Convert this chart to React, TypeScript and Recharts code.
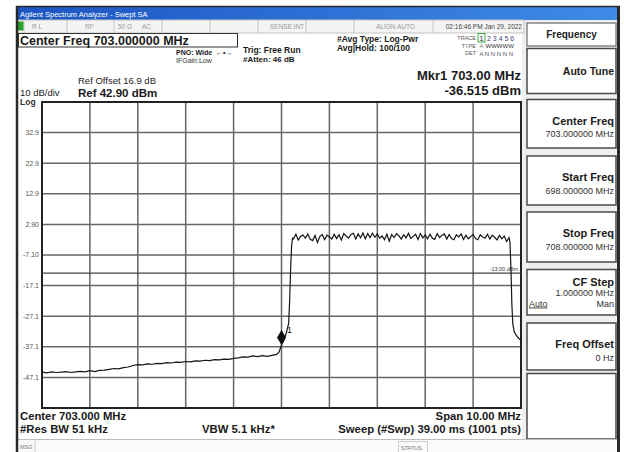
import React from 'react';
import {
  LineChart,
  Line,
  XAxis,
  YAxis,
  CartesianGrid,
  ReferenceArea,
  ReferenceLine,
  ReferenceDot,
} from 'recharts';

// Noise floor below the channel, 698 - 703 MHz
const floorFreq = [
  698.0, 698.1, 698.2, 698.3, 698.4, 698.5, 698.6, 698.7, 698.8, 698.9,
  699.0, 699.1, 699.2, 699.3, 699.4, 699.5, 699.6, 699.7, 699.8, 699.9,
  700.0, 700.1, 700.2, 700.3, 700.4, 700.5, 700.6, 700.7, 700.8, 700.9,
  701.0, 701.1, 701.2, 701.3, 701.4, 701.5, 701.6, 701.7, 701.8, 701.9,
  702.0, 702.1, 702.2, 702.3, 702.4, 702.5, 702.6, 702.7, 702.8, 702.9, 702.95,
];
const floorLevel = [
  -45.4, -45.6, -45.3, -45.5, -45.4, -45.2, -45.5, -45.3, -45.1, -45.3,
  -44.9, -45.2, -44.8, -44.7, -44.5, -44.2, -44.3, -43.9, -43.7, -43.2,
  -42.9, -43.0, -42.7, -42.8, -42.5, -42.6, -42.3, -42.4, -42.1, -42.2,
  -41.9, -42.0, -41.7, -41.8, -41.5, -41.6, -41.3, -41.4, -41.1, -41.2,
  -40.9, -40.7, -40.4, -40.5, -40.1, -40.3, -40.0, -40.2, -39.9, -39.6, -38.8,
];

// Rising edge (marker sits on the first point)
const riseFreq = [703.0, 703.05, 703.1, 703.15, 703.17, 703.19, 703.21, 703.23];
const riseLevel = [-36.5, -35.0, -32.6, -29.4, -22.0, -12.0, -4.2, -1.6];

// Channel plateau
const bandFreq = [
  703.25, 703.3, 703.35, 703.4, 703.45, 703.5, 703.55, 703.6, 703.65, 703.7, 703.75, 703.8, 703.85, 703.9, 703.95,
  704.0, 704.05, 704.1, 704.15, 704.2, 704.25, 704.3, 704.35, 704.4, 704.45, 704.5, 704.55, 704.6, 704.65, 704.7, 704.75, 704.8, 704.85, 704.9, 704.95,
  705.0, 705.05, 705.1, 705.15, 705.2, 705.25, 705.3, 705.35, 705.4, 705.45, 705.5, 705.55, 705.6, 705.65, 705.7, 705.75, 705.8, 705.85, 705.9, 705.95,
  706.0, 706.05, 706.1, 706.15, 706.2, 706.25, 706.3, 706.35, 706.4, 706.45, 706.5, 706.55, 706.6, 706.65, 706.7, 706.75, 706.8, 706.85, 706.9, 706.95,
  707.0, 707.05, 707.1, 707.15, 707.2, 707.25, 707.3, 707.35, 707.4, 707.45, 707.5, 707.55, 707.6, 707.65, 707.7, 707.75,
];
const bandLevel = [
  -1.8, -0.3, -2.2, -1.0, -0.6, -1.6, -0.2, -2.0, -2.4, -0.7, -3.0, -1.1, -0.4, -2.1, -0.6,
  -1.2, -1.9, -0.3, -1.7, -0.5, -2.2, -0.1, -0.9, -1.6, -0.4, 0.0, -1.9, -0.2, -1.5, 0.1, -1.8, -0.1, -1.4, 0.0, -1.3,
  -0.2, -1.6, -0.9, -2.1, -0.3, -2.6, -0.4, -1.4, -0.1, -0.8, -1.9, -0.5, -1.5, 0.0, -1.7, -1.0, -0.3, -2.0, -0.1, -1.5,
  -0.6, -1.8, -0.3, -1.6, -2.0, -0.1, -1.4, -0.7, -0.2, -1.9, -0.4, -1.7, -2.1, -0.5, -1.2, -0.2, -2.0, -0.6, -1.8, -1.1,
  -0.4, -1.7, -2.1, -0.5, -1.2, -1.6, -0.3, -1.9, -0.6, -1.3, -2.2, -0.7, -1.8, -0.9, -2.7, -1.4,
];

// Falling edge
const fallFreq = [707.77, 707.79, 707.81, 707.83, 707.86, 707.9, 707.95, 708.0];
const fallLevel = [-3.0, -11.5, -23.5, -29.8, -32.3, -33.3, -34.3, -35.0];

const markerFreq = 703.0;
const markerLevel = -36.515;
const displayLine = -13;

const xTicks = [698, 699, 700, 701, 702, 703, 704, 705, 706, 707, 708];
const yTicks = [32.9, 22.9, 12.9, 2.9, -7.1, -17.1, -27.1, -37.1, -47.1];
const yTickLabels = ['32.9', '22.9', '12.9', '2.90', '-7.10', '-17.1', '-27.1', '-37.1', '-47.1'];

const traceData = [
  ...floorFreq.map((f, i) => ({ f, level: floorLevel[i] })),
  ...riseFreq.map((f, i) => ({ f, level: riseLevel[i] })),
  ...bandFreq.map((f, i) => ({ f, level: bandLevel[i] })),
  ...fallFreq.map((f, i) => ({ f, level: fallLevel[i] })),
];

const FONT = '"Liberation Sans", Arial, sans-serif';

function T({ x, y, size, bold, anchor, fill, children, underline }: any) {
  return (
    <text
      x={x}
      y={y}
      fontSize={size}
      fontWeight={bold ? 'bold' : 'normal'}
      textAnchor={anchor || 'start'}
      fill={fill || '#1a1a1a'}
      fontFamily={FONT}
      textDecoration={underline ? 'underline' : undefined}
    >
      {children}
    </text>
  );
}

function MarkerDiamond(props: any) {
  const { cx, cy } = props;
  return (
    <g>
      <path
        d={`M${cx},${cy - 15} L${cx + 4.5},${cy - 7.5} L${cx},${cy} L${cx - 4.5},${cy - 7.5} Z`}
        fill="#111"
      />
      <text x={cx + 5.5} y={cy - 12} fontSize={9} fontFamily={FONT} fill="#111">1</text>
    </g>
  );
}

function DisplayLineLabel(props: any) {
  const vb = props.viewBox || {};
  return (
    <text
      x={vb.x + vb.width - 3}
      y={vb.y - 2}
      fontSize={5.5}
      textAnchor="end"
      fontFamily={FONT}
      fill="#333"
    >
      -13.00 dBm
    </text>
  );
}

function SoftKey({ top, bottom, label, value }: any) {
  return (
    <g>
      <rect x={527} y={top} width={89} height={bottom - top} fill="#fff" stroke="#4a4a4a" strokeWidth={1.5} />
      <T x={614} y={top + 25} size={11} bold anchor="end">{label}</T>
      {value && <T x={614} y={top + 37.5} size={9} anchor="end" fill="#333">{value}</T>}
    </g>
  );
}

function Chrome() {
  const dividers = [24, 67, 114, 162, 210, 258, 306, 354, 433];
  return (
    <svg width={624} height={452} style={{ position: 'absolute', left: 0, top: 0 }}>
      <defs>
        <linearGradient id="titleBar" x1="0" x2="1" y1="0" y2="0">
          <stop offset="0" stopColor="#1c55c2" />
          <stop offset="1" stopColor="#3f8be9" />
        </linearGradient>
      </defs>
      <rect x={0} y={0} width={624} height={452} fill="#fff" />
      <rect x={522} y={20} width={96} height={420} fill="#efefef" />

      {/* title bar */}
      <rect x={17} y={7} width={602} height={13} fill="url(#titleBar)" />
      <T x={20} y={16.5} size={7.5} fill="#fff">Agilent Spectrum Analyzer - Swept SA</T>

      {/* status row */}
      <rect x={17} y={20} width={507} height={13} fill="#f4f4f4" stroke="#c4c4c4" strokeWidth={1} />
      {dividers.map((d) => (
        <line key={d} x1={d} x2={d} y1={20} y2={33} stroke="#c4c4c4" />
      ))}
      <rect x={18} y={21.5} width={5.5} height={9} fill="#2aa02a" />
      <T x={32} y={29} size={6.5} fill="#999">R L</T>
      <T x={85} y={29} size={6.5} fill="#999">RF</T>
      <T x={118} y={29} size={6.5} fill="#999">50 Ω</T>
      <T x={142} y={29} size={6.5} fill="#999">AC</T>
      <T x={270} y={29} size={6.5} fill="#999">SENSE:INT</T>
      <T x={376} y={29} size={6.5} fill="#999">ALIGN AUTO</T>
      <T x={522} y={29} size={6.5} anchor="end" fill="#444">02:16:46 PM Jan 29, 2022</T>

      {/* header */}
      <rect x={18.5} y={33.5} width={219} height={13.5} fill="#fff" stroke="#333" strokeWidth={1} />
      <T x={20} y={45} size={12.5} bold>Center Freq 703.000000 MHz</T>
      <T x={176} y={54.5} size={7} bold>PNO: Wide</T>
      <T x={216} y={54.5} size={7} bold>←•→</T>
      <T x={176} y={63} size={7} fill="#333">IFGain:Low</T>
      <T x={243} y={52.5} size={8.5} bold>Trig: Free Run</T>
      <T x={243} y={61.5} size={8} bold>#Atten: 46 dB</T>
      <T x={337} y={41.5} size={8.5} bold>#Avg Type: Log-Pwr</T>
      <T x={337} y={50.5} size={8.5} bold>Avg|Hold: 100/100</T>

      <T x={476} y={40} size={5.5} anchor="end" fill="#555">TRACE</T>
      <T x={476} y={47.5} size={5.5} anchor="end" fill="#555">TYPE</T>
      <T x={476} y={55} size={5.5} anchor="end" fill="#555">DET</T>
      <rect x={478} y={33.5} width={7} height={8.5} fill="none" stroke="#3cb043" strokeWidth={1} />
      <T x={479.5} y={40.5} size={7}>1</T>
      <T x={487} y={40.5} size={7} fill="#3a4a7a">2 3 4 5 6</T>
      <T x={479.5} y={48} size={6} fill="#777">A</T>
      <T x={485.5} y={48} size={6} fill="#333">WWWWW</T>
      <T x={479.5} y={55.5} size={6} fill="#555">A N N N N N</T>

      <T x={521} y={79.5} size={13} bold anchor="end">Mkr1 703.00 MHz</T>
      <T x={521} y={94.5} size={13} bold anchor="end">-36.515 dBm</T>

      <T x={78} y={84} size={9.5} fill="#222">Ref Offset 16.9 dB</T>
      <T x={78} y={97} size={11.5} bold>Ref 42.90 dBm</T>
      <T x={20} y={95.5} size={9.5} fill="#222">10 dB/div</T>
      <T x={20} y={104.5} size={8.5} bold fill="#333">Log</T>

      {/* bottom annotations */}
      <T x={20} y={419.5} size={11.3} bold>Center 703.000 MHz</T>
      <T x={20} y={432.5} size={11.3} bold>#Res BW 51 kHz</T>
      <T x={202} y={432.5} size={11.3} bold>VBW 5.1 kHz*</T>
      <T x={521} y={419.5} size={11.3} bold anchor="end">Span 10.00 MHz</T>
      <T x={521} y={432.5} size={11.3} bold anchor="end">Sweep (#Swp)  39.00 ms (1001 pts)</T>

      {/* softkeys */}
      <rect x={527} y={23} width={89} height={23} fill="#fff" stroke="#6a6a6a" strokeWidth={1.2} />
      <T x={571.5} y={37.5} size={10} bold anchor="middle" fill="#222">Frequency</T>
      <rect x={527} y={48.5} width={89} height={45} fill="#fff" stroke="#4a4a4a" strokeWidth={1.5} />
      <T x={614} y={74.5} size={10.5} bold anchor="end">Auto Tune</T>
      <SoftKey top={99.5} bottom={148} label="Center Freq" value="703.000000 MHz" />
      <SoftKey top={156} bottom={205} label="Start Freq" value="698.000000 MHz" />
      <SoftKey top={212} bottom={262} label="Stop Freq" value="708.000000 MHz" />
      <rect x={527} y={269.5} width={89} height={45.5} fill="#fff" stroke="#4a4a4a" strokeWidth={1.5} />
      <T x={614} y={286} size={11} bold anchor="end">CF Step</T>
      <T x={614} y={295.5} size={9} anchor="end" fill="#333">1.000000 MHz</T>
      <T x={529} y={306.5} size={9} anchor="start" fill="#333" underline>Auto</T>
      <T x={614} y={306.5} size={9} anchor="end" fill="#333">Man</T>
      <SoftKey top={323} bottom={370} label="Freq Offset" value="0 Hz" />
      <rect x={527} y={373.5} width={89} height={65.5} fill="#fff" stroke="#4a4a4a" strokeWidth={1.5} />

      {/* message bar */}
      <line x1={17} x2={619} y1={439.5} y2={439.5} stroke="#bdbdbd" />
      <rect x={18} y={440} width={600} height={12} fill="#fafafa" />
      <line x1={35} x2={35} y1={440} y2={452} stroke="#ccc" />
      <T x={20} y={449} size={5.5} fill="#777">MSG</T>
      <rect x={398.5} y={441.5} width={29} height={11} fill="none" stroke="#ccc" />
      <T x={401} y={449.5} size={5.5} fill="#777">STATUS</T>

      {/* outer frame */}
      <line x1={17} x2={17} y1={6} y2={452} stroke="#2a2a2a" strokeWidth={2.5} />
      <line x1={618.5} x2={618.5} y1={6} y2={452} stroke="#2a2a2a" strokeWidth={3} />
      <line x1={16} x2={620} y1={6.5} y2={6.5} stroke="#2a2a2a" strokeWidth={1.5} />
    </svg>
  );
}

export default function App() {
  return (
    <div style={{ position: 'absolute', left: 0, top: 0, width: 624, height: 452, fontFamily: FONT }}>
      <Chrome />
      <div style={{ position: 'absolute', left: 0, top: 0 }}>
        <LineChart
          width={624}
          height={452}
          data={traceData}
          margin={{ top: 102, right: 103, bottom: 44, left: 0 }}
        >
          <CartesianGrid
            stroke="#666"
            strokeWidth={1.5}
            verticalValues={xTicks}
            horizontalValues={yTicks}
          />
          <XAxis
            type="number"
            dataKey="f"
            domain={[698, 708]}
            ticks={xTicks}
            tick={() => null}
            tickLine={false}
            axisLine={false}
            height={0}
          />
          <YAxis
            type="number"
            domain={[-57.1, 42.9]}
            ticks={yTicks}
            width={42}
            tickLine={false}
            axisLine={false}
            tickSize={1}
            tickMargin={2}
            allowDataOverflow
            tick={{ fontSize: 7, fill: '#555', fontFamily: FONT }}
            tickFormatter={(v: number) => {
              const i = yTicks.indexOf(v);
              return i >= 0 ? yTickLabels[i] : String(v);
            }}
          />
          <ReferenceLine
            y={displayLine}
            stroke="#444"
            strokeWidth={1.2}
            label={<DisplayLineLabel />}
          />
          <ReferenceArea
            x1={698}
            x2={708}
            y1={-57.1}
            y2={42.9}
            fill="none"
            stroke="#222"
            strokeWidth={2}
          />
          <Line
            type="linear"
            dataKey="level"
            stroke="#151515"
            strokeWidth={1.2}
            dot={false}
            isAnimationActive={false}
          />
          <ReferenceDot
            x={markerFreq}
            y={markerLevel}
            shape={(p: any) => <MarkerDiamond {...p} />}
          />
        </LineChart>
      </div>
    </div>
  );
}
